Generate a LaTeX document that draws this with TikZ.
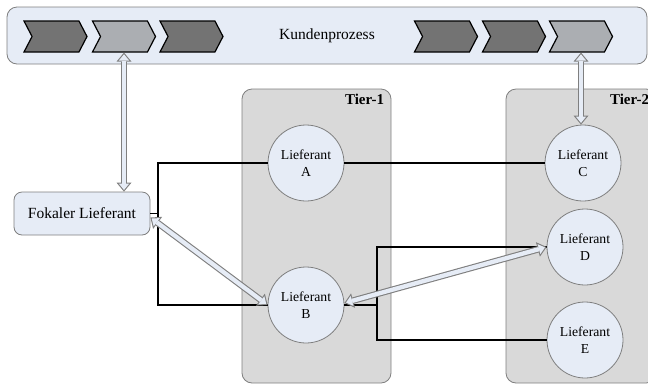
\documentclass[tikz,border=0pt]{standalone}
\usepackage{fontspec}
\setmainfont{Liberation Serif}
\usetikzlibrary{arrows.meta,shapes.symbols}

\definecolor{hellblau}{HTML}{E6ECF6}
\definecolor{randgrau}{HTML}{7F7F7F}
\definecolor{tiergrau}{HTML}{D9D9D9}
\definecolor{dunkel}{HTML}{737373}
\definecolor{hell}{HTML}{ABAEB2}

\tikzset{
  prozessbox/.style={draw=randgrau, fill=hellblau, line width=0.8pt,
    rounded corners=10pt, inner sep=0pt,
    font=\fontsize{15.5}{18}\selectfont},
  schritt/.style={signal, signal to=east, signal from=west,
    signal pointer angle=125, draw=black, line width=1.2pt,
    minimum width=63pt, minimum height=31pt, inner sep=0pt},
  fokalbox/.style={draw=randgrau, fill=hellblau, line width=0.8pt,
    rounded corners=8pt, minimum width=136pt, minimum height=43pt,
    font=\fontsize{15.5}{18}\selectfont},
  tierbox/.style={draw=randgrau, fill=tiergrau, line width=0.8pt,
    rounded corners=10pt, minimum height=294pt, inner sep=0pt},
  tiertext/.style={font=\bfseries\fontsize{15}{18}\selectfont, inner sep=0pt},
  lieferant/.style={circle, draw=randgrau, fill=hellblau, line width=0.8pt,
    minimum size=76pt, inner sep=0pt, align=center,
    font=\fontsize{13.7}{16.5}\selectfont},
  verbindung/.style={draw=black, line width=1.4pt},
  hohlpfeil/.style={draw=randgrau, line width=6.5pt,
    {Triangle[width=15pt,length=9pt,line width=0pt]}-{Triangle[width=15pt,length=9pt,line width=0pt]},
    postaction={draw=hellblau, line width=4.3pt,
      shorten <=1.7pt, shorten >=1.7pt,
      {Triangle[width=10.3pt,length=6.2pt,line width=0pt]}-{Triangle[width=10.3pt,length=6.2pt,line width=0pt]}}}
}

\begin{document}
\begin{tikzpicture}[x=1pt,y=-1pt]
\useasboundingbox (0,0) rectangle (648,384);

% Kundenprozess oben
\node[prozessbox, minimum width=640pt, minimum height=57pt] (prozess) at (327,35.5) {Kundenprozess};
\node[schritt, fill=dunkel] (k1) at (55.5,36.5) {};
\node[schritt, fill=hell]   (k2) at (124,36.5) {};
\node[schritt, fill=dunkel] (k3) at (191.5,36.5) {};
\node[schritt, fill=dunkel] (k4) at (446,36.5) {};
\node[schritt, fill=dunkel] (k5) at (514,36.5) {};
\node[schritt, fill=hell]   (k6) at (581,36.5) {};

% Tier-Spalten
\node[tierbox, minimum width=149pt] (tiereins) at (316.5,236) {};
\node[tiertext, anchor=north east] (tiereinstext) at ([xshift=-7pt,yshift=-5pt]tiereins.north east) {Tier-1};
\node[tierbox, minimum width=150pt] (tierzwei) at (581,236) {};
\node[tiertext, anchor=north east] (tierzweitext) at ([xshift=-7pt,yshift=-5pt]tierzwei.north east) {Tier-2};

% Fokaler Lieferant
\node[fokalbox] (fokal) at (82,213.5) {Fokaler Lieferant};

% Lieferanten
\node[lieferant] (la) at (306,163) {Lieferant\\A};
\node[lieferant] (lb) at (306,305) {Lieferant\\B};
\node[lieferant] (lc) at (583,163) {Lieferant\\C};
\node[lieferant] (ld) at (585,247) {Lieferant\\D};
\node[lieferant] (le) at (585,340) {Lieferant\\E};

% Verbindungslinien
\coordinate (jl) at (158,234);
\coordinate (jr) at (377,300);
\draw[verbindung] (la.west) -| (jl) |- (lb.west);
\draw[verbindung] (fokal.east) -- (fokal.east -| jl);
\draw[verbindung] (la.east) -- (lc.west);
\draw[verbindung] (lb.east) -- (lb.east -| jr);
\draw[verbindung] (ld.west) -| (jr) |- (le.west);

% Pfeile
\draw[hohlpfeil] (k2.south) -- (k2.south |- fokal.north);
\draw[hohlpfeil] (k6.south) -- (k6.south |- lc.north);
\draw[hohlpfeil] ([yshift=-4pt]fokal.east) -- (lb.west);
\draw[hohlpfeil] ([yshift=2pt]lb.east) -- (ld.west);
\end{tikzpicture}
\end{document}
